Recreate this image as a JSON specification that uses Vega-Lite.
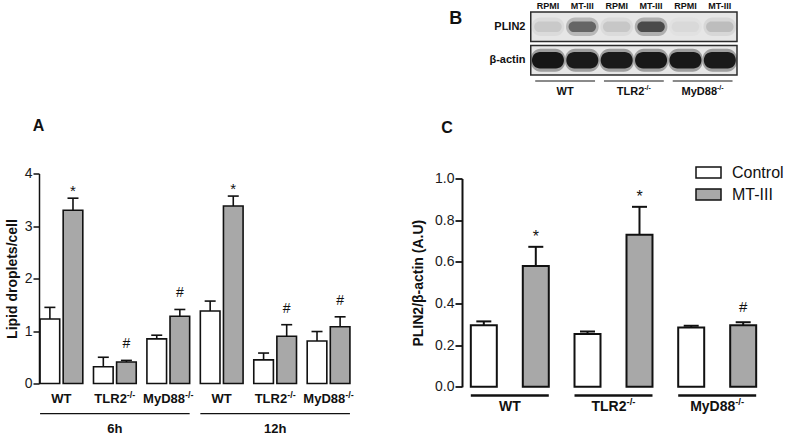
{
  "$schema": "https://vega.github.io/schema/vega-lite/v6.json",
  "background": "white",
  "padding": {"left": 5, "top": 1, "right": 0, "bottom": 0},
  "config": {
    "font": "Liberation Sans",
    "view": {"stroke": null},
    "axis": {"grid": false, "labelColor": "#1a1a1a", "titleColor": "#111111", "domainColor": "#111111", "tickColor": "#111111"},
    "text": {"color": "#111111"}
  },
  "datasets": {
    "lipid": [
      {"grp": "6h WT", "cond": "Control", "mean": 1.23, "upper": 1.45, "sig": ""},
      {"grp": "6h WT", "cond": "MT-III", "mean": 3.30, "upper": 3.53, "sig": "*"},
      {"grp": "6h TLR2", "cond": "Control", "mean": 0.32, "upper": 0.50, "sig": ""},
      {"grp": "6h TLR2", "cond": "MT-III", "mean": 0.41, "upper": 0.44, "sig": "#"},
      {"grp": "6h MyD88", "cond": "Control", "mean": 0.85, "upper": 0.92, "sig": ""},
      {"grp": "6h MyD88", "cond": "MT-III", "mean": 1.28, "upper": 1.41, "sig": "#"},
      {"grp": "12h WT", "cond": "Control", "mean": 1.38, "upper": 1.57, "sig": ""},
      {"grp": "12h WT", "cond": "MT-III", "mean": 3.38, "upper": 3.57, "sig": "*"},
      {"grp": "12h TLR2", "cond": "Control", "mean": 0.45, "upper": 0.58, "sig": ""},
      {"grp": "12h TLR2", "cond": "MT-III", "mean": 0.90, "upper": 1.12, "sig": "#"},
      {"grp": "12h MyD88", "cond": "Control", "mean": 0.81, "upper": 0.99, "sig": ""},
      {"grp": "12h MyD88", "cond": "MT-III", "mean": 1.08, "upper": 1.27, "sig": "#"}
    ],
    "groupsA": [
      {"grp": "6h WT", "base": "WT", "sup": ""},
      {"grp": "6h TLR2", "base": "TLR2", "sup": "-/-"},
      {"grp": "6h MyD88", "base": "MyD88", "sup": "-/-"},
      {"grp": "12h WT", "base": "WT", "sup": ""},
      {"grp": "12h TLR2", "base": "TLR2", "sup": "-/-"},
      {"grp": "12h MyD88", "base": "MyD88", "sup": "-/-"}
    ],
    "timesA": [
      {"time": "6h", "first": "6h WT", "mid": "6h TLR2", "last": "6h MyD88"},
      {"time": "12h", "first": "12h WT", "mid": "12h TLR2", "last": "12h MyD88"}
    ],
    "plin": [
      {"geno": "WT", "cond": "Control", "mean": 0.296, "upper": 0.314, "sig": ""},
      {"geno": "WT", "cond": "MT-III", "mean": 0.58, "upper": 0.672, "sig": "*"},
      {"geno": "TLR2", "cond": "Control", "mean": 0.253, "upper": 0.266, "sig": ""},
      {"geno": "TLR2", "cond": "MT-III", "mean": 0.73, "upper": 0.864, "sig": "*"},
      {"geno": "MyD88", "cond": "Control", "mean": 0.285, "upper": 0.293, "sig": ""},
      {"geno": "MyD88", "cond": "MT-III", "mean": 0.296, "upper": 0.31, "sig": "#"}
    ],
    "genoC": [
      {"geno": "WT", "base": "WT", "sup": ""},
      {"geno": "TLR2", "base": "TLR2", "sup": "-/-"},
      {"geno": "MyD88", "base": "MyD88", "sup": "-/-"}
    ],
    "panels": [
      {"panel": "A"}, {"panel": "B"}, {"panel": "C"}
    ],
    "blotRows": [
      {"row": "PLIN2"},
      {"row": "β-actin"}
    ],
    "blot": [
      {"row": "PLIN2", "lane": "WT|RPMI", "intensity": 0.14},
      {"row": "PLIN2", "lane": "WT|MT-III", "intensity": 0.66},
      {"row": "PLIN2", "lane": "TLR2|RPMI", "intensity": 0.15},
      {"row": "PLIN2", "lane": "TLR2|MT-III", "intensity": 0.82},
      {"row": "PLIN2", "lane": "MyD88|RPMI", "intensity": 0.06},
      {"row": "PLIN2", "lane": "MyD88|MT-III", "intensity": 0.2},
      {"row": "β-actin", "lane": "WT|RPMI", "intensity": 0.97},
      {"row": "β-actin", "lane": "WT|MT-III", "intensity": 0.95},
      {"row": "β-actin", "lane": "TLR2|RPMI", "intensity": 0.95},
      {"row": "β-actin", "lane": "TLR2|MT-III", "intensity": 0.96},
      {"row": "β-actin", "lane": "MyD88|RPMI", "intensity": 0.96},
      {"row": "β-actin", "lane": "MyD88|MT-III", "intensity": 0.95}
    ],
    "blotGroups": [
      {"first": "WT|RPMI", "last": "WT|MT-III", "base": "WT", "sup": ""},
      {"first": "TLR2|RPMI", "last": "TLR2|MT-III", "base": "TLR2", "sup": "-/-"},
      {"first": "MyD88|RPMI", "last": "MyD88|MT-III", "base": "MyD88", "sup": "-/-"}
    ]
  },
  "columns": 2,
  "align": "none",
  "bounds": "flush",
  "spacing": {"row": 2.5, "column": 111},
  "resolve": {"scale": {"xOffset": "independent", "fill": "independent", "color": "independent"}, "legend": {"fill": "independent"}},
  "concat": [
    {"width": 312, "height": 163.2, "data": {"values": []}, "mark": "point"},
    {
      "width": 275,
      "height": 163.2,
      "layer": [
        {
          "data": {"name": "blotRows"},
          "mark": {"type": "rect", "fill": "#e6e6e6", "stroke": "#2b2b2b", "strokeWidth": 1.5},
          "encoding": {
            "x": {"datum": "WT|RPMI", "type": "nominal", "bandPosition": 0,
              "scale": {"domain": ["WT|RPMI", "WT|MT-III", "TLR2|RPMI", "TLR2|MT-III", "MyD88|RPMI", "MyD88|MT-III"], "paddingInner": 0, "paddingOuter": 1.064, "align": 1},
              "axis": {"orient": "top", "title": null, "labelExpr": "split(datum.label, '|')[1]", "labelFontSize": 9, "labelFontWeight": "bold", "labelColor": "#111111", "labelPadding": 2, "ticks": false, "tickSize": 0, "domain": false, "labelAngle": 0}},
            "x2": {"datum": "MyD88|MT-III", "bandPosition": 1},
            "y": {"field": "row", "type": "nominal",
              "scale": {"domain": ["PLIN2", "β-actin", "grp"], "paddingInner": 0.12, "paddingOuter": 0.996, "align": 0},
              "axis": {"orient": "left", "offset": -72, "title": null, "labelExpr": "datum.label == 'grp' ? '' : datum.label", "labelFontSize": 11, "labelFontWeight": "bold", "labelColor": "#111111", "labelPadding": 9, "ticks": false, "tickSize": 0, "domain": false}}
          }
        },
        {
          "data": {"name": "blot"},
          "transform": [{"filter": "datum.row == 'PLIN2'"}],
          "mark": {"type": "rect", "width": {"band": 0.95}, "height": {"band": 0.62}, "cornerRadius": 9, "opacity": 0.3},
          "encoding": {
            "x": {"field": "lane", "type": "nominal"},
            "y": {"field": "row", "type": "nominal"},
            "color": {"field": "intensity", "type": "quantitative", "scale": {"domain": [0, 1], "range": ["#e6e6e6", "#101010"]}, "legend": null}
          }
        },
        {
          "data": {"name": "blot"},
          "transform": [{"filter": "datum.row == 'PLIN2'"}],
          "mark": {"type": "rect", "width": {"band": 0.8}, "height": {"band": 0.36}, "cornerRadius": 6, "opacity": 0.8},
          "encoding": {
            "x": {"field": "lane", "type": "nominal"},
            "y": {"field": "row", "type": "nominal"},
            "color": {"field": "intensity", "type": "quantitative"}
          }
        },
        {
          "data": {"name": "blot"},
          "transform": [{"filter": "datum.row != 'PLIN2'"}],
          "mark": {"type": "rect", "width": {"band": 1}, "height": {"band": 0.78}, "cornerRadius": 10, "opacity": 0.35},
          "encoding": {
            "x": {"field": "lane", "type": "nominal"},
            "y": {"field": "row", "type": "nominal"},
            "color": {"field": "intensity", "type": "quantitative"}
          }
        },
        {
          "data": {"name": "blot"},
          "transform": [{"filter": "datum.row != 'PLIN2'"}],
          "mark": {"type": "rect", "width": {"band": 0.93}, "height": {"band": 0.56}, "cornerRadius": 8, "opacity": 1},
          "encoding": {
            "x": {"field": "lane", "type": "nominal"},
            "y": {"field": "row", "type": "nominal"},
            "color": {"field": "intensity", "type": "quantitative"}
          }
        },
        {
          "data": {"name": "blotGroups"},
          "mark": {"type": "rule", "stroke": "#8a8a8a", "strokeWidth": 2},
          "encoding": {
            "x": {"field": "first", "type": "nominal", "bandPosition": 0.13},
            "x2": {"field": "last", "bandPosition": 0.87},
            "y": {"datum": "grp", "type": "nominal", "bandPosition": 0.07}
          }
        },
        {
          "data": {"name": "blotGroups"},
          "transform": [{"filter": "datum.base == 'WT'"}],
          "mark": {"type": "text", "fontSize": 11, "fontWeight": "bold", "baseline": "middle", "align": "center"},
          "encoding": {
            "x": {"field": "first", "type": "nominal", "bandPosition": 1},
            "y": {"datum": "grp", "type": "nominal", "bandPosition": 0.44},
            "text": {"field": "base"}
          }
        },
        {
          "data": {"name": "blotGroups"},
          "transform": [{"filter": "datum.base != 'WT'"}],
          "mark": {"type": "text", "fontSize": 11, "fontWeight": "bold", "baseline": "middle", "align": "center", "dx": -3.3},
          "encoding": {
            "x": {"field": "first", "type": "nominal", "bandPosition": 1},
            "y": {"datum": "grp", "type": "nominal", "bandPosition": 0.44},
            "text": {"field": "base"}
          }
        },
        {
          "data": {"name": "blotGroups"},
          "transform": [{"filter": "datum.base == 'TLR2'"}],
          "mark": {"type": "text", "fontSize": 7, "fontWeight": "bold", "baseline": "middle", "align": "left", "dx": 10.4, "dy": -3.5},
          "encoding": {
            "x": {"field": "first", "type": "nominal", "bandPosition": 1},
            "y": {"datum": "grp", "type": "nominal", "bandPosition": 0.44},
            "text": {"field": "sup"}
          }
        },
        {
          "data": {"name": "blotGroups"},
          "transform": [{"filter": "datum.base == 'MyD88'"}],
          "mark": {"type": "text", "fontSize": 7, "fontWeight": "bold", "baseline": "middle", "align": "left", "dx": 14.4, "dy": -3.5},
          "encoding": {
            "x": {"field": "first", "type": "nominal", "bandPosition": 1},
            "y": {"datum": "grp", "type": "nominal", "bandPosition": 0.44},
            "text": {"field": "sup"}
          }
        },
        {
          "data": {"name": "panels"},
          "transform": [{"filter": "datum.panel == 'B'"}],
          "mark": {"type": "text", "fontSize": 18, "fontWeight": "bold", "baseline": "middle", "align": "center", "dx": -75, "dy": 7},
          "encoding": {
            "x": {"datum": "WT|RPMI", "type": "nominal", "bandPosition": 0},
            "y": {"datum": "PLIN2", "type": "nominal", "bandPosition": 0},
            "text": {"field": "panel"}
          }
        }
      ]
    },
    {
      "width": 312,
      "height": 205,
      "data": {"name": "lipid"},
      "encoding": {
        "x": {"field": "grp", "type": "nominal", "scale": {"domain": ["6h WT", "6h TLR2", "6h MyD88", "12h WT", "12h TLR2", "12h MyD88"], "paddingInner": 0.2, "paddingOuter": 0.02}, "axis": null}
      },
      "layer": [
        {
          "mark": {"type": "bar", "stroke": "#111111", "strokeWidth": 1.6},
          "encoding": {
            "xOffset": {"field": "cond", "type": "nominal", "scale": {"domain": ["Control", "MT-III"], "paddingInner": 0.15, "paddingOuter": 0}},
            "y": {"field": "mean", "type": "quantitative", "scale": {"domain": [0, 4], "nice": false, "range": [205, -5]},
              "axis": {"values": [0, 1, 2, 3, 4], "format": "d", "title": "Lipid droplets/cell", "titleFontSize": 14, "titleFontWeight": "bold", "titlePadding": 5, "labelFontSize": 14, "labelPadding": 1, "tickSize": 6, "tickWidth": 1.5, "domainWidth": 1.5}},
            "fill": {"field": "cond", "type": "nominal", "scale": {"domain": ["Control", "MT-III"], "range": ["#ffffff", "#a8a8a8"]}, "legend": null}
          }
        },
        {
          "mark": {"type": "rule", "stroke": "#111111", "strokeWidth": 1.6},
          "encoding": {"xOffset": {"field": "cond", "type": "nominal"}, "y": {"field": "mean", "type": "quantitative"}, "y2": {"field": "upper"}}
        },
        {
          "mark": {"type": "tick", "color": "#111111", "thickness": 1.6, "size": 11, "orient": "horizontal", "opacity": 1},
          "encoding": {"xOffset": {"field": "cond", "type": "nominal"}, "y": {"field": "upper", "type": "quantitative"}}
        },
        {
          "transform": [{"filter": "datum.sig == '*'"}],
          "mark": {"type": "text", "fontSize": 15, "baseline": "middle", "dy": -7},
          "encoding": {"xOffset": {"field": "cond", "type": "nominal"}, "y": {"field": "upper", "type": "quantitative"}, "text": {"field": "sig"}}
        },
        {
          "transform": [{"filter": "datum.sig == '#'"}],
          "mark": {"type": "text", "fontSize": 14, "baseline": "middle", "dy": -16},
          "encoding": {"xOffset": {"field": "cond", "type": "nominal"}, "y": {"field": "upper", "type": "quantitative"}, "text": {"field": "sig"}}
        },
        {
          "data": {"name": "panels"},
          "transform": [{"filter": "datum.panel == 'A'"}],
          "mark": {"type": "text", "fontSize": 16, "fontWeight": "bold", "baseline": "middle", "align": "center", "dx": -1.5, "dy": -48},
          "encoding": {
            "x": {"datum": "6h WT", "type": "nominal", "bandPosition": 0},
            "y": {"datum": 4, "type": "quantitative"},
            "text": {"field": "panel"}
          }
        }
      ]
    },
    {
      "width": 303,
      "height": 208.3,
      "data": {"name": "plin"},
      "encoding": {
        "x": {"field": "geno", "type": "nominal", "scale": {"domain": ["WT", "TLR2", "MyD88"], "paddingInner": 0.248, "paddingOuter": 0.085}, "axis": null}
      },
      "layer": [
        {
          "mark": {"type": "bar", "stroke": "#111111", "strokeWidth": 2},
          "encoding": {
            "xOffset": {"field": "cond", "type": "nominal", "scale": {"domain": ["Control", "MT-III"], "paddingInner": 0.5, "paddingOuter": 0}},
            "y": {"field": "mean", "type": "quantitative", "scale": {"domain": [0, 1], "nice": false},
              "axis": {"values": [0, 0.2, 0.4, 0.6, 0.8, 1], "format": ".1f", "title": "PLIN2/β-actin (A.U)", "titleFontSize": 14, "titleFontWeight": "bold", "titlePadding": 9, "labelFontSize": 14, "labelPadding": 1, "tickSize": 7, "tickWidth": 1.8, "domainWidth": 2}},
            "fill": {"field": "cond", "type": "nominal", "scale": {"domain": ["Control", "MT-III"], "range": ["#ffffff", "#a8a8a8"]},
              "legend": {"orient": "none", "legendX": 233, "legendY": -19.5, "title": null, "padding": 0, "symbolType": "M-1,-0.44H1V0.44H-1Z", "symbolSize": 625, "symbolStrokeColor": "#111111", "symbolStrokeWidth": 1.5, "labelFontSize": 16, "labelColor": "#111111", "labelOffset": 10, "rowPadding": -7.5}}
          }
        },
        {
          "mark": {"type": "rule", "stroke": "#111111", "strokeWidth": 2},
          "encoding": {"xOffset": {"field": "cond", "type": "nominal"}, "y": {"field": "mean", "type": "quantitative"}, "y2": {"field": "upper"}}
        },
        {
          "mark": {"type": "tick", "color": "#111111", "thickness": 2, "size": 15, "orient": "horizontal", "opacity": 1},
          "encoding": {"xOffset": {"field": "cond", "type": "nominal"}, "y": {"field": "upper", "type": "quantitative"}}
        },
        {
          "transform": [{"filter": "datum.sig == '*'"}],
          "mark": {"type": "text", "fontSize": 16, "baseline": "middle", "dy": -10},
          "encoding": {"xOffset": {"field": "cond", "type": "nominal"}, "y": {"field": "upper", "type": "quantitative"}, "text": {"field": "sig"}}
        },
        {
          "transform": [{"filter": "datum.sig == '#'"}],
          "mark": {"type": "text", "fontSize": 15, "baseline": "middle", "dy": -15},
          "encoding": {"xOffset": {"field": "cond", "type": "nominal"}, "y": {"field": "upper", "type": "quantitative"}, "text": {"field": "sig"}}
        },
        {
          "data": {"name": "panels"},
          "transform": [{"filter": "datum.panel == 'C'"}],
          "mark": {"type": "text", "fontSize": 16, "fontWeight": "bold", "baseline": "middle", "align": "center", "dx": -23.7, "dy": -51},
          "encoding": {
            "x": {"datum": "WT", "type": "nominal", "bandPosition": 0},
            "y": {"datum": 1, "type": "quantitative"},
            "text": {"field": "panel"}
          }
        }
      ]
    },
    {
      "width": 312,
      "height": 47.4,
      "encoding": {
        "x": {"field": "grp", "type": "nominal", "scale": {"domain": ["6h WT", "6h TLR2", "6h MyD88", "12h WT", "12h TLR2", "12h MyD88"], "paddingInner": 0.2, "paddingOuter": 0.02}, "axis": null}
      },
      "layer": [
        {
          "data": {"name": "groupsA"},
          "transform": [{"filter": "datum.base == 'WT'"}],
          "mark": {"type": "text", "fontSize": 13, "fontWeight": "bold", "baseline": "middle", "align": "center"},
          "encoding": {"y": {"datum": "lbl", "type": "nominal", "scale": {"type": "point", "domain": ["lbl", "line", "time"], "padding": 0.58}, "axis": null}, "text": {"field": "base"}}
        },
        {
          "data": {"name": "groupsA"},
          "transform": [{"filter": "datum.base != 'WT'"}],
          "mark": {"type": "text", "fontSize": 13, "fontWeight": "bold", "baseline": "middle", "align": "center", "dx": -4.25},
          "encoding": {"y": {"datum": "lbl", "type": "nominal"}, "text": {"field": "base"}}
        },
        {
          "data": {"name": "groupsA"},
          "transform": [{"filter": "datum.base == 'TLR2'"}],
          "mark": {"type": "text", "fontSize": 9, "fontWeight": "bold", "baseline": "middle", "align": "left", "dx": 12, "dy": -4},
          "encoding": {"y": {"datum": "lbl", "type": "nominal"}, "text": {"field": "sup"}}
        },
        {
          "data": {"name": "groupsA"},
          "transform": [{"filter": "datum.base == 'MyD88'"}],
          "mark": {"type": "text", "fontSize": 9, "fontWeight": "bold", "baseline": "middle", "align": "left", "dx": 16.7, "dy": -4},
          "encoding": {"y": {"datum": "lbl", "type": "nominal"}, "text": {"field": "sup"}}
        },
        {
          "data": {"name": "timesA"},
          "mark": {"type": "rule", "stroke": "#111111", "strokeWidth": 1.2},
          "encoding": {
            "x": {"field": "first", "type": "nominal", "bandPosition": 0},
            "x2": {"field": "last", "bandPosition": 1},
            "y": {"datum": "line", "type": "nominal"}
          }
        },
        {
          "data": {"name": "timesA"},
          "mark": {"type": "text", "fontSize": 13, "fontWeight": "bold", "baseline": "middle", "align": "center"},
          "encoding": {
            "x": {"field": "mid", "type": "nominal"},
            "y": {"datum": "time", "type": "nominal"},
            "text": {"field": "time"}
          }
        }
      ]
    },
    {
      "width": 303,
      "height": 22,
      "data": {"name": "genoC"},
      "encoding": {
        "x": {"field": "geno", "type": "nominal", "scale": {"domain": ["WT", "TLR2", "MyD88"], "paddingInner": 0.248, "paddingOuter": 0.085}, "axis": null}
      },
      "layer": [
        {
          "mark": {"type": "rule", "stroke": "#111111", "strokeWidth": 2.5},
          "encoding": {
            "x": {"field": "geno", "type": "nominal", "bandPosition": 0},
            "x2": {"field": "geno", "bandPosition": 1},
            "y": {"datum": "line", "type": "nominal", "scale": {"type": "point", "domain": ["line", "lbl"], "padding": 0.5}, "axis": null}
          }
        },
        {
          "transform": [{"filter": "datum.base == 'WT'"}],
          "mark": {"type": "text", "fontSize": 14, "fontWeight": "bold", "baseline": "middle", "align": "center"},
          "encoding": {"y": {"datum": "lbl", "type": "nominal"}, "text": {"field": "base"}}
        },
        {
          "transform": [{"filter": "datum.base != 'WT'"}],
          "mark": {"type": "text", "fontSize": 14, "fontWeight": "bold", "baseline": "middle", "align": "center", "dx": -4.5},
          "encoding": {"y": {"datum": "lbl", "type": "nominal"}, "text": {"field": "base"}}
        },
        {
          "transform": [{"filter": "datum.base == 'TLR2'"}],
          "mark": {"type": "text", "fontSize": 9.5, "fontWeight": "bold", "baseline": "middle", "align": "left", "dx": 13, "dy": -4.5},
          "encoding": {"y": {"datum": "lbl", "type": "nominal"}, "text": {"field": "sup"}}
        },
        {
          "transform": [{"filter": "datum.base == 'MyD88'"}],
          "mark": {"type": "text", "fontSize": 9.5, "fontWeight": "bold", "baseline": "middle", "align": "left", "dx": 18, "dy": -4.5},
          "encoding": {"y": {"datum": "lbl", "type": "nominal"}, "text": {"field": "sup"}}
        }
      ]
    }
  ]
}
